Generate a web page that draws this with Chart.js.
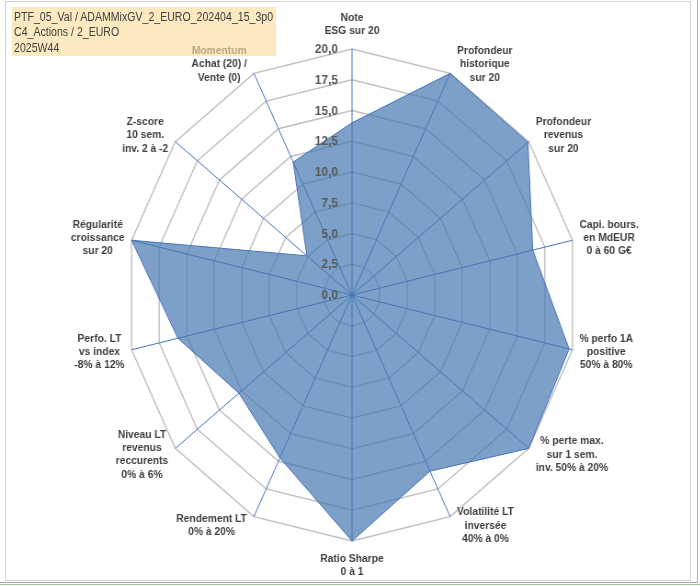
<!DOCTYPE html>
<html>
<head>
<meta charset="utf-8">
<script src="https://cdn.jsdelivr.net/npm/chart.js@4.4.1/dist/chart.umd.min.js"></script>
<style>
  html, body { margin: 0; padding: 0; background: #ffffff; }
  #wrap { position: relative; width: 700px; height: 586px; overflow: hidden; background: #fff; }
  #frame { position: absolute; left: 5px; top: 1px; width: 684px; height: 578px; border: 1px solid #d4d4d4; }
  #line1 { position: absolute; left: 0; top: 582px; width: 698px; height: 1px; background: #a8a8a8; }
  #line2 { position: absolute; left: 0; top: 584px; width: 700px; height: 1px; background: #9cc79c; }
  #line3 { position: absolute; left: 697px; top: 0; width: 1px; height: 583px; background: #b0b0b0; }
  #c { position: absolute; left: 0; top: 0; width: 700px; height: 586px; transform: scaleX(0.919); transform-origin: 352px 0; }
  #title { position: absolute; left: 12px; top: 7px; width: 264px; height: 46.5px; padding-top: 2.5px;
           background: rgba(250, 221, 158, 0.65); z-index: 5; overflow: hidden; }
  #title div { font-family: "Liberation Sans", Arial, sans-serif; font-size: 12.3px; line-height: 15.5px; color: #404040;
               white-space: nowrap; transform: scaleX(0.86); transform-origin: 0 0; margin-left: 2px; }
</style>
</head>
<body>
<div id="wrap">
  <div id="frame"></div>
  <canvas id="c" width="700" height="586"></canvas>
  <div id="title">
    <div>PTF_05_Val / ADAMMixGV_2_EURO_202404_15_3p0</div>
    <div>C4_Actions / 2_EURO</div>
    <div>2025W44</div>
  </div>
  <div id="line1"></div>
  <div id="line2"></div>
  <div id="line3"></div>
</div>
<script>
const categories = [
  ['Note', 'ESG sur 20'],
  ['Profondeur', 'historique', 'sur 20'],
  ['Profondeur', 'revenus', 'sur 20'],
  ['Capi. bours.', 'en MdEUR', '0 à 60 G€'],
  ['% perfo 1A', 'positive', '50% à 80%'],
  ['% perte max.', 'sur 1 sem.', 'inv. 50% à 20%'],
  ['Volatilité LT', 'inversée', '40% à 0%'],
  ['Ratio Sharpe', '0 à 1'],
  ['Rendement LT', '0% à 20%'],
  ['Niveau LT', 'revenus', 'reccurents', '0% à 6%'],
  ['Perfo. LT', 'vs index', '-8% à 12%'],
  ['Régularité', 'croissance', 'sur 20'],
  ['Z-score', '10 sem.', 'inv. 2 à -2'],
  ['Momentum', 'Achat (20) /', 'Vente (0)']
];
const seriesValues = [14.0, 20.0, 19.9, 16.4, 19.7, 20.0, 15.9, 20.0, 14.7, 12.8, 15.8, 20.0, 5.1, 12.0];
const tickLabels = ['0,0', '2,5', '5,0', '7,5', '10,0', '12,5', '15,0', '17,5', '20,0'];

const SQX = 0.919; // horizontal squeeze applied by CSS
const LABEL_FONT = 'bold 11.2px "Liberation Sans", Arial, sans-serif';
const TICK_FONT = 'bold 13px "Liberation Sans", Arial, sans-serif';
const LINE_H = 13.3;

const labelPlugin = {
  id: 'excelLabels',
  afterDatasetsDraw(chart) {
    const s = chart.scales.r;
    const ctx = chart.ctx;
    ctx.save();
    ctx.font = TICK_FONT;
    ctx.fillStyle = '#595959';
    ctx.textAlign = 'right';
    ctx.textBaseline = 'middle';
    s.ticks.forEach(t => {
      const p = s.getPointPositionForValue(0, t.value);
      ctx.fillText(t.label, s.xCenter - 14 / SQX, p.y + 0.5);
    });
    ctx.font = LABEL_FONT;
    ctx.fillStyle = '#404040';
    ctx.textAlign = 'center';
    const labels = chart.data.labels;
    labels.forEach((lines, i) => {
      const ang = s.getIndexAngle(i);
      let deg = (ang * 180 / Math.PI) % 360;
      if (deg < 0) deg += 360;
      const v = s.getPointPosition(i, s.drawingArea);
      const bw = Math.max(...lines.map(l => ctx.measureText(l).width));
      const bh = lines.length * LINE_H;
      let cx, cy;
      if (Math.abs(deg) < 1 || Math.abs(deg - 360) < 1) {
        cx = v.x; cy = v.y - 11 - bh / 2;
      } else if (Math.abs(deg - 180) < 1) {
        cx = v.x; cy = v.y + 11 + bh / 2;
      } else if (deg < 180) {
        cx = v.x + 7 / SQX + bw / 2; cy = v.y - 10 * Math.cos(ang);
      } else {
        cx = v.x - 7 / SQX - bw / 2; cy = v.y - 10 * Math.cos(ang);
      }
      lines.forEach((l, k) => {
        ctx.fillText(l, cx, cy - bh / 2 + LINE_H * (k + 0.5));
      });
    });
    ctx.restore();
  }
};

new Chart(document.getElementById('c'), {
  type: 'radar',
  data: {
    labels: categories,
    datasets: [{
      data: seriesValues,
      backgroundColor: 'rgba(69, 119, 176, 0.7)',
      borderColor: '#4a72b8',
      borderWidth: 1,
      pointRadius: 0,
      pointHoverRadius: 0,
      fill: true
    }]
  },
  options: {
    responsive: false,
    animation: false,
    devicePixelRatio: 1,
    layout: { padding: { top: 49, bottom: 44, left: 4, right: 0 } },
    plugins: { legend: { display: false }, tooltip: { enabled: false } },
    scales: {
      r: {
        min: 0,
        max: 20,
        startAngle: 0,
        ticks: { stepSize: 2.5, display: false, callback: (v, i) => tickLabels[i] },
        grid: { color: '#bfbfbf', lineWidth: 1.4 },
        angleLines: { color: '#4472c4', lineWidth: 1 },
        pointLabels: { display: false }
      }
    }
  },
  plugins: [labelPlugin]
});
</script>
</body>
</html>
